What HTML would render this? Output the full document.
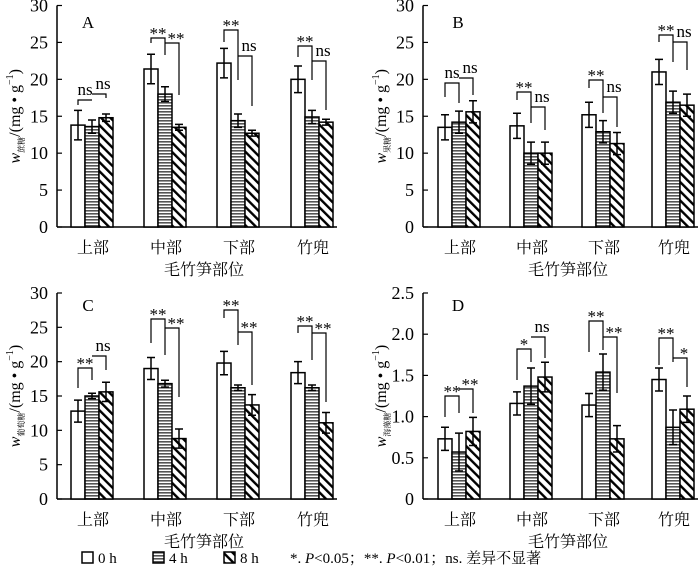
<!DOCTYPE html><html><head><meta charset="utf-8"><style>
body{margin:0;background:#fff}
svg{display:block}
</style></head><body>
<svg id="s" width="700" height="575" xmlns="http://www.w3.org/2000/svg" font-family="'Liberation Serif','Noto Serif CJK SC',serif">
<defs>
<pattern id="hz" patternUnits="userSpaceOnUse" width="6" height="3"><rect width="6" height="3" fill="#fff"/><rect y="0" width="6" height="1.6" fill="#555"/></pattern>
<pattern id="dg" patternUnits="userSpaceOnUse" width="6.5" height="6.5" patternTransform="rotate(-45)"><rect width="6.5" height="6.5" fill="#fff"/><rect x="0" width="2.4" height="6.5" fill="#000"/></pattern>
</defs>
</svg>
<script>
const S=document.getElementById('s');let h='';
const FF=`font-family="Liberation Serif, Noto Serif CJK SC, serif"`;
const P=[
{ax:57,y0:227,yt:5.5,max:30,ticks:[0,5,10,15,20,25,30],starts:[71,144,217,291],L:'A',lx:88,ly:22,sub:'蔗糖',ylx:14,
d:[[13.8,2,13.6,.9,14.8,.5],[21.4,2,18,1,13.5,.4],[22.2,2,14.4,.9,12.7,.4],[20,1.8,14.9,.9,14.2,.4]],
b:[[100,94,105,100,98,'ns','ns'],[38,43,43,55,95,'**','**'],[30,56,42,80,106,'**','ns'],[46,61,57,80,110,'**','ns']]},
{ax:423,y0:227,yt:5.5,max:30,ticks:[0,5,10,15,20,25,30],starts:[438,510,582,652],L:'B',lx:458,ly:22,sub:'果糖',ylx:380,
d:[[13.5,1.7,14.2,1.5,15.6,1.5],[13.7,1.7,10,1.5,10,1.5],[15.2,1.7,12.9,1.5,11.3,1.5],[21,1.7,16.9,1.5,16.5,1.5]],
b:[[83,78,97,103,95,'ns','ns'],[92,107,100,123,130,'**','ns'],[80,97,88,113,127,'**','ns'],[35,42,42,62,70,'**','ns']]},
{ax:57,y0:499,yt:293,max:30,ticks:[0,5,10,15,20,25,30],starts:[71,144,217,291],L:'C',lx:88,ly:305,sub:'葡萄糖',ylx:14,
d:[[12.8,1.6,15,.4,15.6,1.4],[19,1.6,16.8,.5,8.8,1.4],[19.8,1.7,16.2,.4,13.7,1.5],[18.4,1.6,16.2,.4,11.1,1.5]],
b:[[368,356,388,380,370,'**','ns'],[319,328,343,355,397,'**','**'],[310,332,318,345,385,'**','**'],[326,333,333,360,402,'**','**']]},
{ax:423,y0:499,yt:293,max:2.5,ticks:[0,.5,1,1.5,2,2.5],starts:[438,510,582,652],L:'D',lx:458,ly:305,sub:'海藻糖',ylx:380,
d:[[.73,.14,.57,.23,.82,.17],[1.16,.14,1.37,.22,1.48,.18],[1.14,.14,1.54,.22,.73,.16],[1.45,.14,.87,.21,1.09,.16]],
b:[[396,389,417,413,413,'**','**'],[349,337,380,362,358,'*','ns'],[321,337,352,350,393,'**','**'],[338,358,365,362,387,'**','*']]}
];
const fills=['#fff','url(#hz)','url(#dg)'];const cats=['上部','中部','下部','竹兜'];
P.forEach(p=>{
 const sc=(p.y0-p.yt)/p.max,Y=v=>p.y0-v*sc,right=p.starts[3]+46;
 h+=`<line x1="${p.ax}" y1="${p.yt}" x2="${p.ax}" y2="${p.y0}" stroke="#000" stroke-width="1.5"/><line x1="${p.ax}" y1="${p.y0}" x2="${right}" y2="${p.y0}" stroke="#000" stroke-width="1.5"/>`;
 p.ticks.forEach(t=>{const y=Y(t);h+=`<line x1="${p.ax}" y1="${y}" x2="${p.ax+5}" y2="${y}" stroke="#000" stroke-width="1.2"/><text ${FF} x="${p.ax-9}" y="${y+6}" font-size="18" text-anchor="end">${p.max<5?(t==0?'0':t.toFixed(1)):t}</text>`});
 h+=`<text ${FF} x="${p.lx}" y="${p.ly+6}" font-size="17" text-anchor="middle">${p.L}</text>`;
 p.starts.forEach((s,g)=>{
  const dd=p.d[g];
  for(let i=0;i<3;i++){const x=s+i*14,v=dd[2*i],e=dd[2*i+1],y=Y(v);
   h+=`<rect x="${x}" y="${y}" width="14" height="${p.y0-y}" fill="${fills[i]}" stroke="#000" stroke-width="1.5"/>`;
   const cx=x+7;h+=`<path d="M${cx} ${Y(v-e)}V${Y(v+e)}M${cx-4} ${Y(v-e)}H${cx+4}M${cx-4} ${Y(v+e)}H${cx+4}" stroke="#000" stroke-width="1.5" fill="none"/>`;}
  const c=[s+7,s+21,s+35],b=p.b[g];
  h+=`<path d="M${c[0]} ${b[2]}V${b[0]}H${c[1]}V${Math.max(b[3],b[0])}M${c[1]} ${Math.min(b[0],b[1])}V${b[1]}H${c[2]}V${b[4]}" stroke="#000" stroke-width="1.2" fill="none"/>`;
  h+=`<text ${FF} x="${(c[0]+c[1])/2}" y="${b[0]-5+(b[5].includes('*')?6:0)}" font-size="17" text-anchor="middle">${b[5]}</text>`;
  h+=`<text ${FF} x="${(c[1]+c[2])/2+4}" y="${b[1]-5+(b[6].includes('*')?6:0)}" font-size="17" text-anchor="middle">${b[6]}</text>`;
  h+=`<text ${FF} x="${s+22}" y="${p.y0+26}" font-size="16" text-anchor="middle">${cats[g]}</text>`;
 });
 const mx=(p.starts[0]+right)/2;
 h+=`<text ${FF} x="${mx}" y="${p.y0+48}" font-size="16" text-anchor="middle">毛竹笋部位</text>`;
 const cy=(p.y0+p.yt)/2;
 h+=`<text ${FF} transform="translate(${p.ylx+6},${cy}) rotate(-90)" font-size="16" text-anchor="middle"><tspan font-style="italic">w</tspan><tspan font-size="8" dy="4">${p.sub}</tspan><tspan dy="-4">/(mg • g</tspan><tspan font-size="10" dy="-7">−1</tspan><tspan dy="7">)</tspan></text>`;
});
[[82,'0 h',0],[153,'4 h',1],[224,'8 h',2]].forEach(([x,t,i])=>{h+=`<rect x="${x}" y="552" width="11" height="11" fill="${fills[i]}" stroke="#000" stroke-width="1.5"/><text ${FF} x="${x+16}" y="563" font-size="15">${t}</text>`});
h+=`<text ${FF} x="290" y="563" font-size="15">*. <tspan font-style="italic">P</tspan>&lt;0.05；**. <tspan font-style="italic">P</tspan>&lt;0.01；ns. 差异不显著</text>`;
S.insertAdjacentHTML('beforeend',h);
</script>
</body></html>
